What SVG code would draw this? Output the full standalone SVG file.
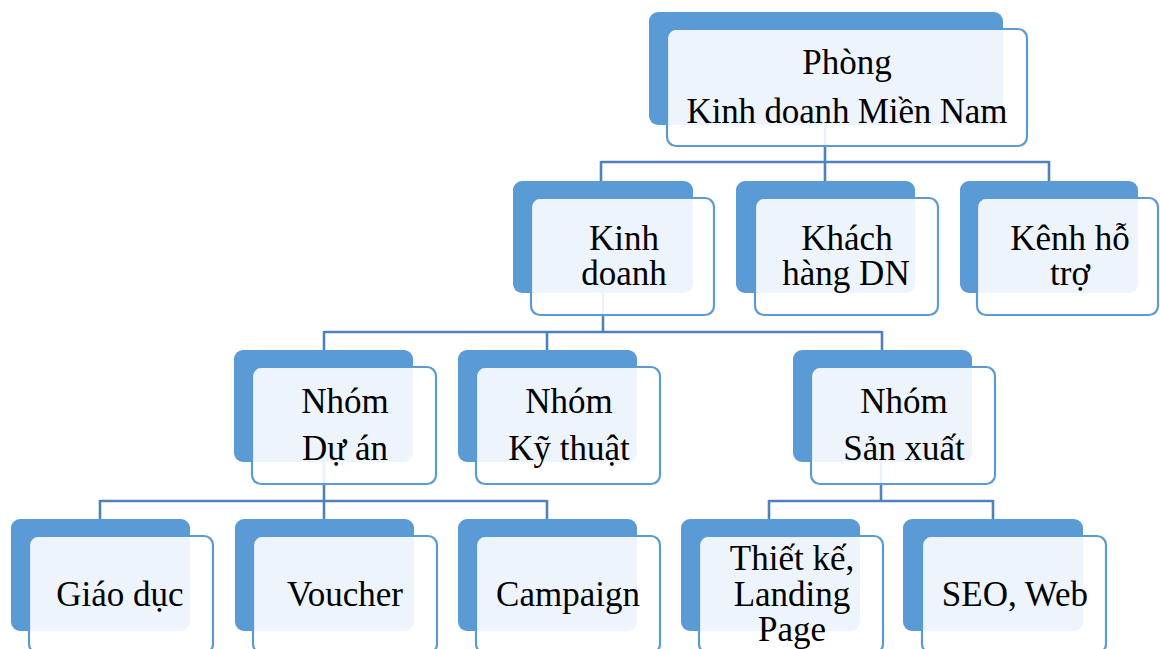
<svg xmlns="http://www.w3.org/2000/svg" width="1160" height="649" viewBox="0 0 1160 649">
<style>
.back{fill:#5B9BD5;}
.front{fill:#ffffff;fill-opacity:0.89;stroke:#5B9BD5;stroke-width:2.2;}
.conn{fill:none;stroke:#4F81BD;stroke-width:2.6;}
text{font-family:"Liberation Serif","Times New Roman",serif;font-size:35px;fill:#000;text-anchor:middle;}
</style>
<rect width="1160" height="649" fill="#ffffff"/>
<g id="connectors">
<path class="conn" d="M825,125 V162 M601,162 H1049 M601,161 V181 M825,162 V181 M1049,161 V181"/>
<path class="conn" d="M603,293 V332 M324,332 H882 M324,331 V350 M547,332 V350 M882,331 V350"/>
<path class="conn" d="M324,462 V501 M100,501 H547 M100,500 V519 M324,501 V519 M547,500 V519"/>
<path class="conn" d="M881,462 V501 M769,501 H993 M769,500 V519 M993,500 V519"/>
</g>
<g id="node-top">
<rect class="back" x="649" y="12" width="354" height="113" rx="9"/>
<rect class="front" x="667" y="29" width="360" height="117" rx="9"/>
<text x="847" y="74">Phòng</text>
<text x="847" y="123" textLength="321" lengthAdjust="spacing">Kinh doanh Miền Nam</text>
</g>
<g id="node-kinhdoanh">
<rect class="back" x="513" y="181" width="180" height="112" rx="9"/>
<rect class="front" x="531" y="198" width="183" height="117" rx="9"/>
<text x="624" y="250">Kinh</text>
<text x="624" y="285">doanh</text>
</g>
<g id="node-khachhang">
<rect class="back" x="736" y="181" width="179" height="112" rx="9"/>
<rect class="front" x="755" y="198" width="183" height="117" rx="9"/>
<text x="847" y="250">Khách</text>
<text x="846" y="285">hàng DN</text>
</g>
<g id="node-kenh">
<rect class="back" x="960" y="181" width="178" height="112" rx="9"/>
<rect class="front" x="977" y="198" width="181" height="117" rx="9"/>
<text x="1070" y="250">Kênh hỗ</text>
<text x="1070" y="285">trợ</text>
</g>
<g id="node-duan">
<rect class="back" x="234" y="350" width="179" height="112" rx="9"/>
<rect class="front" x="252" y="367" width="184" height="117" rx="9"/>
<text x="345" y="413">Nhóm</text>
<text x="345" y="460">Dự án</text>
</g>
<g id="node-kythuat">
<rect class="back" x="458" y="350" width="179" height="112" rx="9"/>
<rect class="front" x="476" y="367" width="184" height="117" rx="9"/>
<text x="569" y="413">Nhóm</text>
<text x="569" y="460">Kỹ thuật</text>
</g>
<g id="node-sanxuat">
<rect class="back" x="793" y="350" width="179" height="112" rx="9"/>
<rect class="front" x="811" y="367" width="184" height="117" rx="9"/>
<text x="904" y="413">Nhóm</text>
<text x="904" y="460">Sản xuất</text>
</g>
<g id="node-giaoduc">
<rect class="back" x="11" y="519" width="179" height="112" rx="9"/>
<rect class="front" x="29" y="536" width="184" height="117" rx="9"/>
<text x="120" y="606">Giáo dục</text>
</g>
<g id="node-voucher">
<rect class="back" x="235" y="519" width="179" height="112" rx="9"/>
<rect class="front" x="253" y="536" width="184" height="117" rx="9"/>
<text x="345" y="606">Voucher</text>
</g>
<g id="node-campaign">
<rect class="back" x="458" y="519" width="179" height="112" rx="9"/>
<rect class="front" x="476" y="536" width="184" height="117" rx="9"/>
<text x="568" y="606">Campaign</text>
</g>
<g id="node-thietke">
<rect class="back" x="681" y="519" width="179" height="112" rx="9"/>
<rect class="front" x="699" y="536" width="184" height="117" rx="9"/>
<text x="792" y="570">Thiết kế,</text>
<text x="792" y="606">Landing</text>
<text x="792" y="641">Page</text>
</g>
<g id="node-seo">
<rect class="back" x="903" y="519" width="180" height="112" rx="9"/>
<rect class="front" x="922" y="536" width="184" height="117" rx="9"/>
<text x="1015" y="606">SEO, Web</text>
</g>
</svg>
